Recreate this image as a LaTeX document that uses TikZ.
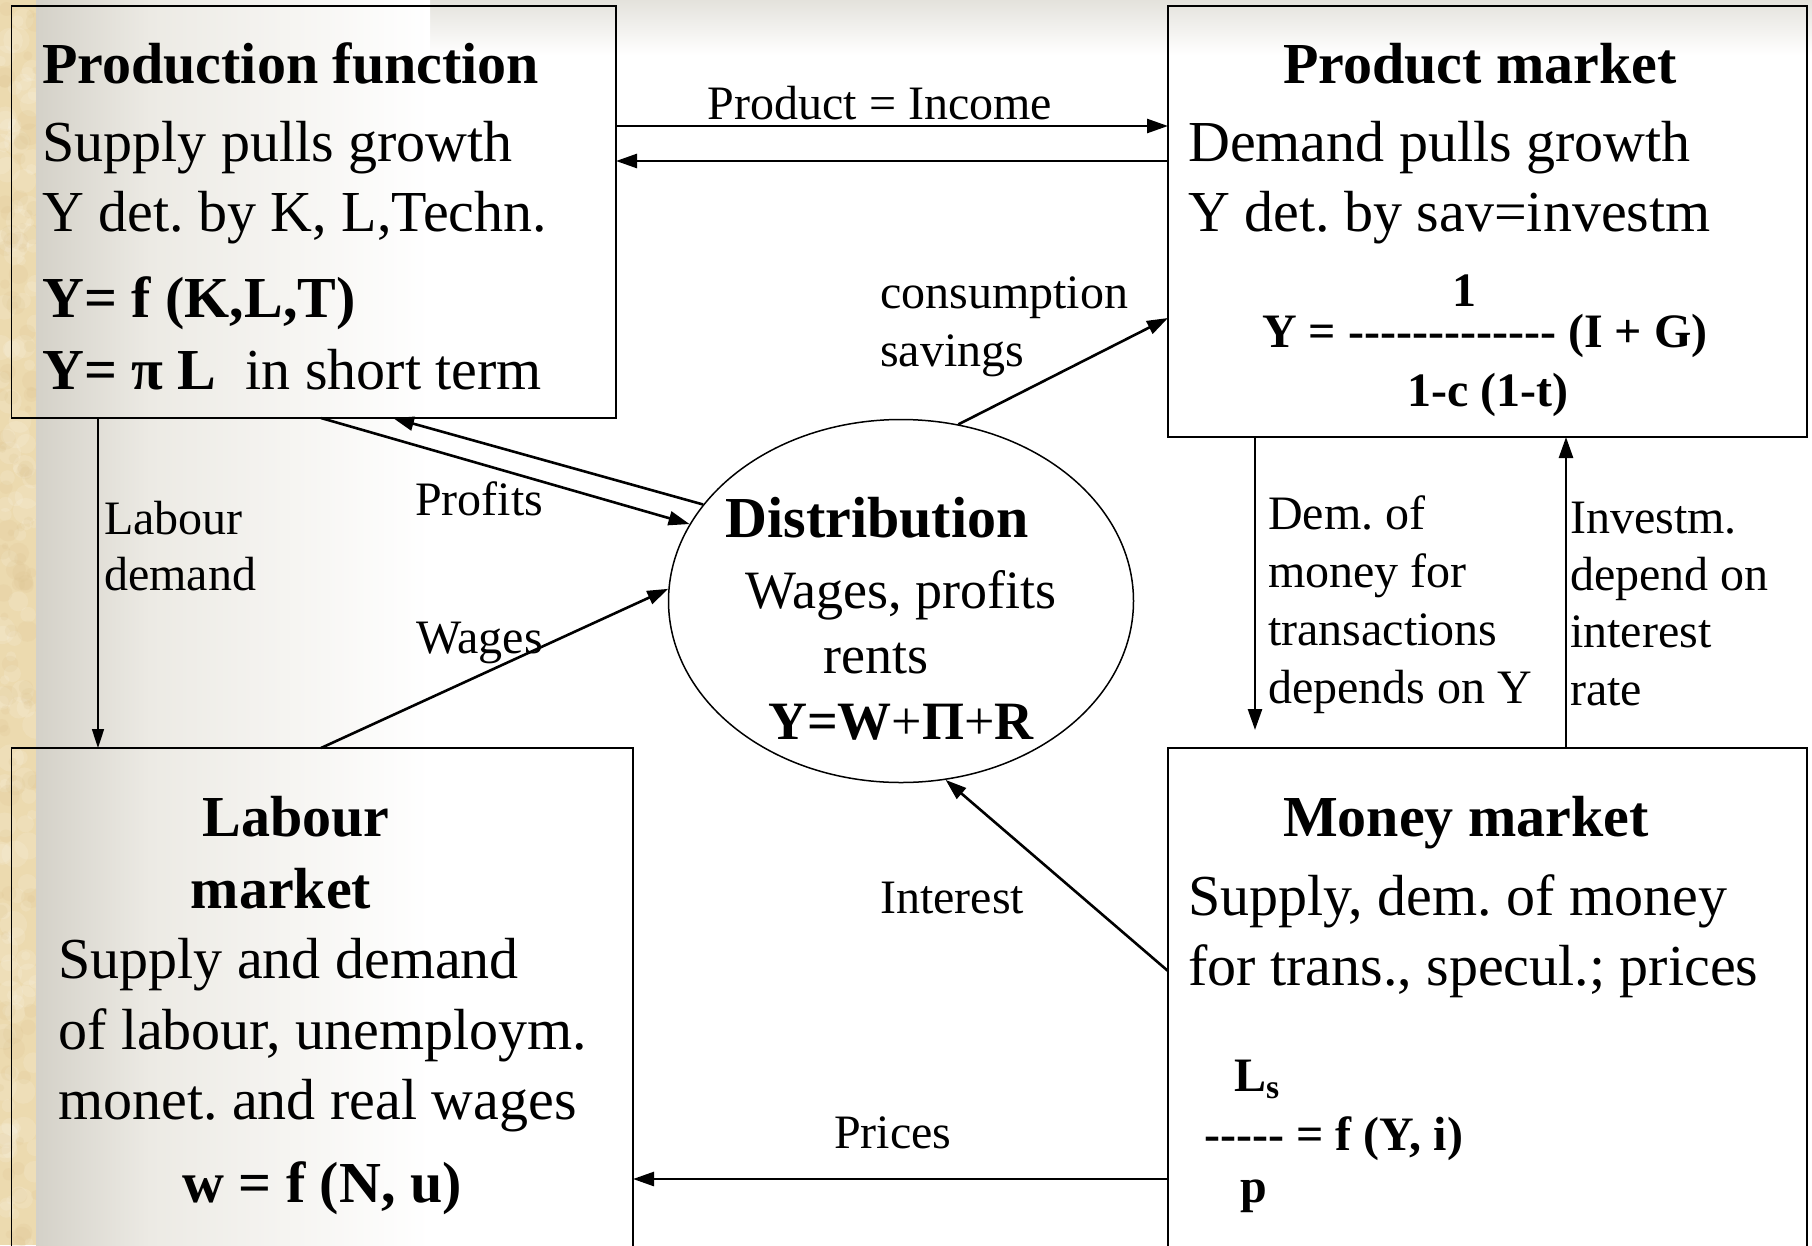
\documentclass[tikz,border=0pt]{standalone}
\usepackage{fontspec}
\setmainfont{Liberation Serif}
\frenchspacing
\usetikzlibrary{arrows.meta,shapes.geometric,calc}
\definecolor{tanA}{HTML}{ECDAAF}
\definecolor{tanB}{HTML}{DCC391}
\definecolor{bgA}{HTML}{D4D1C8}
\definecolor{bgB}{HTML}{ECEAE4}
\definecolor{bgT}{HTML}{E4E2DC}
\begin{document}
\begin{tikzpicture}[x=1pt,y=-1pt,
  box/.style={draw, line width=1.6pt, rectangle, inner sep=0pt, outer sep=0pt, anchor=north west},
  ar/.style={line width=2.6pt, -{Triangle[length=21pt,width=14pt]}},
  thinar/.style={line width=1.6pt, -{Triangle[length=19pt,width=12pt]}},
  body/.style={font=\fontsize{58}{66}\selectfont, inner sep=0pt, anchor=base west},
  bodyb/.style={font=\fontsize{58}{66}\selectfont\bfseries, inner sep=0pt, anchor=base west},
  ell/.style={font=\fontsize{54}{62}\selectfont, inner sep=0pt, anchor=base},
  form/.style={font=\fontsize{48}{56}\selectfont\bfseries, inner sep=0pt, anchor=base west},
  lab/.style={font=\fontsize{48}{58}\selectfont, inner sep=0pt, anchor=base west},
]
\useasboundingbox (0,0) rectangle (1812,1245);
\clip (0,0) rectangle (1812,1245);
% background
\fill[white] (0,0) rectangle (1812,1245);
\shade[top color=bgT, bottom color=white] (0,0) rectangle (1812,55);
\shade[left color=bgA, right color=bgB] (36,0) rectangle (150,1245);
\shade[left color=bgB, right color=white] (149.5,0) rectangle (430,1245);
\begin{scope}
\clip (0,0) rectangle (36,1245);
\fill[tanA] (0,0) rectangle (36,1245);
\pgfmathsetseed{7}
\foreach \i in {1,...,140}{
  \pgfmathsetmacro\xx{rnd*36}
  \pgfmathsetmacro\yy{rnd*1245}
  \pgfmathsetmacro\rr{4+rnd*10}
  \fill[white, opacity=0.12] (\xx,\yy) circle[radius=\rr];
}
\foreach \i in {1,...,110}{
  \pgfmathsetmacro\xx{rnd*36}
  \pgfmathsetmacro\yy{rnd*1245}
  \pgfmathsetmacro\rr{3+rnd*8}
  \fill[tanB, opacity=0.18] (\xx,\yy) circle[radius=\rr];
}
\end{scope}

% boxes
\node[box, minimum width=604.5pt, minimum height=412pt] (pf) at (11.5,6) {};
\node[box, minimum width=639pt, minimum height=431pt] (pm) at (1168,6) {};
\node[box, minimum width=621.5pt, minimum height=520pt] (lm) at (11.5,748) {};
\node[box, minimum width=639pt, minimum height=520pt] (mm) at (1168,748) {};
\node[draw, ellipse, line width=1.5pt, minimum width=465pt, minimum height=363pt, inner sep=0pt] (dist) at (901,601) {};

% production function text
\node[bodyb] (pf1) at (42,83) {Production function};
\node[body] (pf2) at (42,161) {Supply pulls growth};
\node[body] (pf3) at (42,231) {Y det. by K, L,Techn.};
\node[bodyb] (pf4) at (42,317) {Y= f (K,L,T)};
\node[body] (pf5) at (42,389) {\textbf{Y= π L}\ \ in short term};

% product market text
\node[bodyb, anchor=base] (pm1) at (1480,83) {Product market};
\node[body] (pm2) at (1188,161) {Demand pulls growth};
\node[body] (pm3) at (1188,231) {Y det. by sav=investm};
\node[form, anchor=base] (pm4) at (1464,306) {1};
\node[form] (pm5) at (1262,347) {Y = -{}-{}-{}-{}-{}-{}-{}-{}-{}-{}-{}-{}- (I + G)};
\node[form, anchor=base] (pm6) at (1488,406) {1-c (1-t)};

% labour market text
\node[bodyb, anchor=base] (lm1) at (296,836) {Labour};
\node[bodyb, anchor=base] (lm2) at (281,908) {market};
\node[body] (lm3) at (58,978) {Supply and demand};
\node[body] (lm4) at (58,1049) {of labour, unemploym.};
\node[body] (lm5) at (58,1119) {monet. and real wages};
\node[bodyb, anchor=base] (lm6) at (322,1202) {w = f (N, u)};

% money market text
\node[bodyb, anchor=base] (mm1) at (1466,836) {Money market};
\node[body] (mm2) at (1188,915) {Supply, dem. of money};
\node[body] (mm3) at (1188,985) {for trans., specul.; prices};
\node[form] (mm4) at (1234,1091) {L\textsubscript{s}};
\node[form] (mm5) at (1204,1150) {-{}-{}-{}-{}- = f (Y, i)};
\node[form] (mm6) at (1240,1202) {p};

% distribution text
\node[bodyb, anchor=base] (d1) at (877,537) {Distribution};
\node[ell] (d2) at (901,608) {Wages, profits};
\node[ell] (d3) at (876,673) {rents};
\node[ell, font=\fontsize{54}{62}\selectfont\bfseries] (d4) at (901,739) {Y=W\textmd{+}Π\textmd{+}R};

% connector labels
\node[lab, anchor=base] (l1) at (880,119) {Product = Income};
\node[lab] (l2) at (104,534) {Labour};
\node[lab] (l3) at (104,590) {demand};
\node[lab] (l4) at (415,515) {Profits};
\node[lab] (l5) at (416,653) {Wages};
\node[lab] (l6) at (880,308) {consumption};
\node[lab] (l7) at (880,366) {savings};
\node[lab] (l8) at (1268,529) {Dem. of};
\node[lab] (l9) at (1268,587) {money for};
\node[lab] (l10) at (1268,645) {transactions};
\node[lab] (l11) at (1268,703) {depends on Y};
\node[lab] (l12) at (1570,533) {Investm.};
\node[lab] (l13) at (1570,590) {depend on};
\node[lab] (l14) at (1570,647) {interest};
\node[lab] (l15) at (1570,705) {rate};
\node[lab] (l16) at (880,913) {Interest};
\node[lab] (l17) at (834,1148) {Prices};

% connectors
\coordinate (demend) at (1255,730);
\draw[ar] (pf.east |- 0,126) -- (pm.west |- 0,126);
\draw[ar] (pm.west |- 0,161) -- (pf.east |- 0,161);
\draw[thinar] (98,0 |- pf.south) -- (98,0 |- lm.north);
\draw[ar] (321,0 |- pf.south) -- (dist.160);
\draw[ar] (dist.154) -- (393,0 |- pf.south);
\draw[ar] (321,0 |- lm.north) -- (dist.177);
\draw[ar] (dist.72) -- (pm.west |- 0,318);
\draw[ar] (demend |- pm.south) -- (demend);
\draw[ar] (1566,0 |- mm.north) -- (1566,0 |- pm.south);
\draw[ar] (mm.west |- 0,971) -- (dist.-76);
\draw[ar] (mm.west |- 0,1179) -- (lm.east |- 0,1179);
\end{tikzpicture}
\end{document}
